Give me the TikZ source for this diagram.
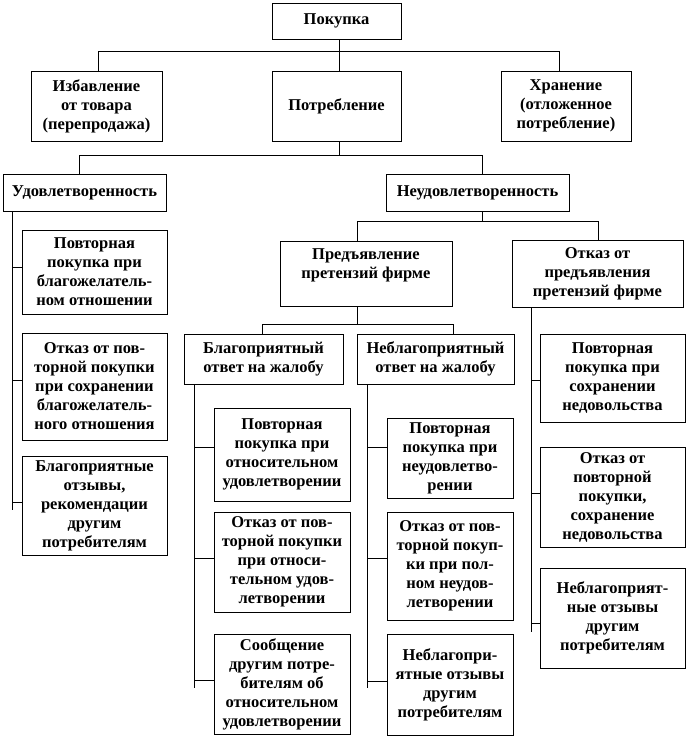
\documentclass[tikz,border=0pt]{standalone}
\usepackage{fontspec}
\setmainfont{Liberation Serif}
\begin{document}
\begin{tikzpicture}[x=1pt,y=1pt,
  box/.style={draw, line width=0.75pt, inner sep=0pt, align=center,
    font=\fontsize{16.5}{19}\selectfont\bfseries},
  conn/.style={line width=0.75pt}]
\useasboundingbox (0,0) rectangle (688,-737);
% top levels
\node[box, minimum width=129pt, minimum height=36pt] (pok) at (336.5,-21) {Покупка};
\node[box, minimum width=131pt, minimum height=70pt] (izb) at (96.5,-106) {Избавление\\от товара\\(перепродажа)};
\node[box, minimum width=129pt, minimum height=70pt] (potr) at (336.5,-106) {Потребление};
\node[box, minimum width=130pt, minimum height=70pt] (hran) at (566,-106) {Хранение\\(отложенное\\потребление)};
\node[box, minimum width=163pt, minimum height=37pt] (udov) at (84.5,-192.5) {Удовлетворенность};
\node[box, minimum width=183pt, minimum height=37pt] (neud) at (477.5,-192.5) {Неудовлетворенность};
\node[box, minimum width=172pt, minimum height=65pt] (pred) at (366,-273.5) {Предъявление\\претензий фирме\\\mbox{}};
\node[box, minimum width=171pt, minimum height=67pt] (otkpred) at (597.5,-273.5) {Отказ от\\предъявления\\претензий фирме};
\node[box, minimum width=159pt, minimum height=50pt] (blag) at (263.5,-359) {Благоприятный\\ответ на жалобу};
\node[box, minimum width=157pt, minimum height=50pt] (neblag) at (435.5,-359) {Неблагоприятный\\ответ на жалобу};
% left column
\node[box, minimum width=145pt, minimum height=84pt] (l1) at (94.5,-272) {Повторная\\покупка при\\благожелатель-\\ном отношении};
\node[box, minimum width=145pt, minimum height=107pt] (l2) at (94.5,-386.5) {Отказ от пов-\\торной покупки\\при сохранении\\благожелатель-\\ного отношения};
\node[box, minimum width=145pt, minimum height=99pt] (l3) at (94.5,-505.5) {Благоприятные\\отзывы,\\рекомендации\\другим\\потребителям};
% middle-left column
\node[box, minimum width=136pt, minimum height=93pt] (m1) at (282,-454.5) {Повторная\\покупка при\\относительном\\удовлетворении};
\node[box, minimum width=136pt, minimum height=100pt] (m2) at (282,-562) {Отказ от пов-\\торной покупки\\при относи-\\тельном удов-\\летворении};
\node[box, minimum width=136pt, minimum height=100pt] (m3) at (282,-684) {Сообщение\\другим потре-\\бителям об\\относительном\\удовлетворении};
% middle-right column
\node[box, minimum width=126pt, minimum height=80pt] (r1) at (450,-458) {Повторная\\покупка при\\неудовлетво-\\рении};
\node[box, minimum width=126pt, minimum height=108pt] (r2) at (450,-566) {Отказ от пов-\\торной покуп-\\ки при пол-\\ном неудов-\\летворении};
\node[box, minimum width=126pt, minimum height=101pt] (r3) at (450,-684.5) {Неблагопри-\\ятные отзывы\\другим\\потребителям};
% right column
\node[box, minimum width=145pt, minimum height=88pt] (k1) at (612.5,-378) {Повторная\\покупка при\\сохранении\\недовольства};
\node[box, minimum width=145pt, minimum height=100pt] (k2) at (612.5,-497) {Отказ от\\повторной\\покупки,\\сохранение\\недовольства};
\node[box, minimum width=145pt, minimum height=100pt] (k3) at (612.5,-618) {Неблагоприят-\\ные отзывы\\другим\\потребителям};
% junction coordinates
\coordinate (t1L) at (98,-51);  \coordinate (t1R) at (559,-51);  \coordinate (t1M) at (339,-51);
\coordinate (t2L) at (79,-155); \coordinate (t2R) at (482,-155); \coordinate (t2M) at (339,-155);
\coordinate (t3L) at (357,-221); \coordinate (t3R) at (598,-221); \coordinate (t3M) at (482,-221);
\coordinate (t4L) at (262,-324); \coordinate (t4R) at (453,-324); \coordinate (t4M) at (357,-324);
% tree connectors
\draw[conn] (t1M |- pok.south) -- (t1M |- potr.north);
\draw[conn] (t1L |- izb.north) -- (t1L) -- (t1R) -- (t1R |- hran.north);
\draw[conn] (t2M |- potr.south) -- (t2M);
\draw[conn] (t2L |- udov.north) -- (t2L) -- (t2R) -- (t2R |- neud.north);
\draw[conn] (t3M |- neud.south) -- (t3M);
\draw[conn] (t3L |- pred.north) -- (t3L) -- (t3R) -- (t3R |- otkpred.north);
\draw[conn] (t4M |- pred.south) -- (t4M);
\draw[conn] (t4L |- blag.north) -- (t4L) -- (t4R) -- (t4R |- neblag.north);
% left spine
\coordinate (vA) at (12,-510);
\draw[conn] (vA |- udov.south) -- (vA);
\coordinate (a1) at (12,-267); \draw[conn] (a1) -- (a1 -| l1.west);
\coordinate (a2) at (12,-380); \draw[conn] (a2) -- (a2 -| l2.west);
\coordinate (a3) at (12,-502); \draw[conn] (a3) -- (a3 -| l3.west);
% middle-left spine
\coordinate (vB) at (194,-688);
\draw[conn] (vB |- blag.south) -- (vB);
\coordinate (b1) at (194,-447); \draw[conn] (b1) -- (b1 -| m1.west);
\coordinate (b2) at (194,-558); \draw[conn] (b2) -- (b2 -| m2.west);
\coordinate (b3) at (194,-680); \draw[conn] (b3) -- (b3 -| m3.west);
% middle-right spine
\coordinate (vC) at (367,-688);
\draw[conn] (vC |- neblag.south) -- (vC);
\coordinate (c1) at (367,-447); \draw[conn] (c1) -- (c1 -| r1.west);
\coordinate (c2) at (367,-558); \draw[conn] (c2) -- (c2 -| r2.west);
\coordinate (c3) at (367,-681); \draw[conn] (c3) -- (c3 -| r3.west);
% right spine
\coordinate (vD) at (531,-632);
\draw[conn] (vD |- otkpred.south) -- (vD);
\coordinate (d1) at (531,-380); \draw[conn] (d1) -- (d1 -| k1.west);
\coordinate (d2) at (531,-493); \draw[conn] (d2) -- (d2 -| k2.west);
\coordinate (d3) at (531,-623); \draw[conn] (d3) -- (d3 -| k3.west);
\end{tikzpicture}
\end{document}
